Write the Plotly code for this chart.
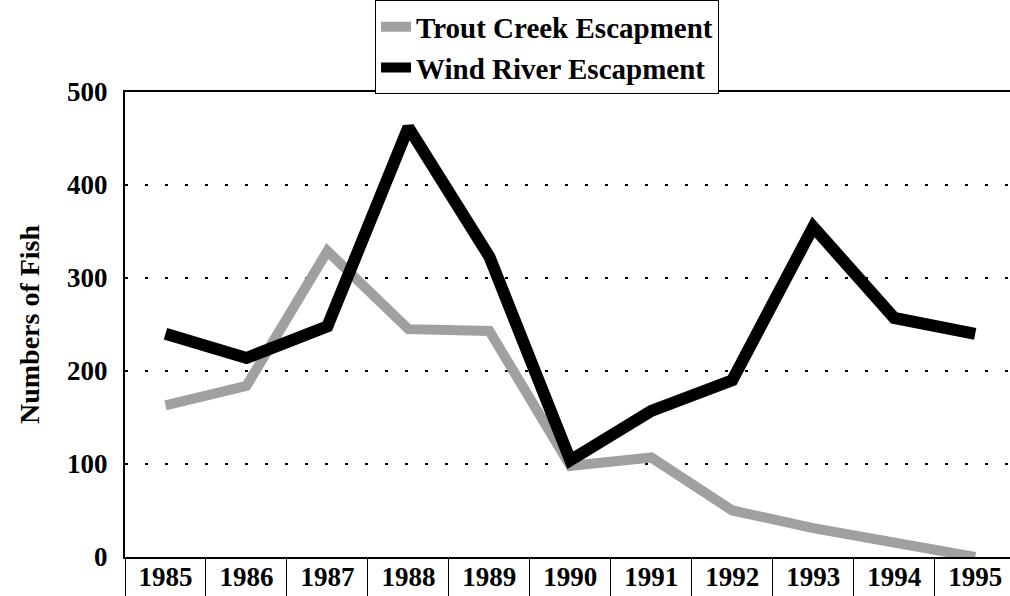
import plotly.graph_objects as go

years = ["1985", "1986", "1987", "1988", "1989", "1990", "1991", "1992", "1993", "1994", "1995"]
trout_creek = [163, 184, 329, 245, 243, 98, 107, 50, 31, 16, 0]
wind_river = [240, 214, 248, 462, 323, 104, 157, 190, 355, 257, 240]
y_ticks = [0, 100, 200, 300, 400, 500]

FONT = "Liberation Serif"

fig = go.Figure()
fig.add_trace(go.Scatter(
    x=years, y=trout_creek, mode="lines", name="<b>Trout Creek Escapment</b>",
    line=dict(color="#a0a0a0", width=10),
))
fig.add_trace(go.Scatter(
    x=years, y=wind_river, mode="lines", name="<b>Wind River Escapment</b>",
    line=dict(color="#000000", width=12),
))

fig.update_layout(
    width=1010, height=596,
    margin=dict(l=125, r=0, t=90, b=39),
    paper_bgcolor="white", plot_bgcolor="white",
    font=dict(family=FONT, color="black"),
    showlegend=True,
    legend=dict(
        x=0.2825, y=1.197, xanchor="left", yanchor="top",
        bordercolor="black", borderwidth=1, bgcolor="white",
        font=dict(size=29, family=FONT), itemwidth=30,
        tracegroupgap=0,
    ),
    xaxis=dict(
        type="category", range=[-0.5, 10.43],
        showline=True, linecolor="black", linewidth=2, mirror=True,
        showgrid=False, tickson="boundaries", ticks="outside",
        ticklen=39, tickcolor="black", tickwidth=1,
        ticklabelstandoff=-5,
        tickfont=dict(size=27, family=FONT), tickprefix="<b>", ticksuffix="</b>",
    ),
    yaxis=dict(
        range=[0, 500], tickvals=y_ticks,
        ticktext=[f"<b>{v}</b>" for v in y_ticks],
        showline=True, linecolor="black", linewidth=2,
        showgrid=True, gridcolor="black", gridwidth=2, griddash="3px,17px",
        zeroline=False, ticks="", ticklabelstandoff=10,
        tickfont=dict(size=27, family=FONT),
        title=dict(text="<b>Numbers of Fish</b>", font=dict(size=28, family=FONT), standoff=19),
    ),
)

fig.write_html("out.html")
